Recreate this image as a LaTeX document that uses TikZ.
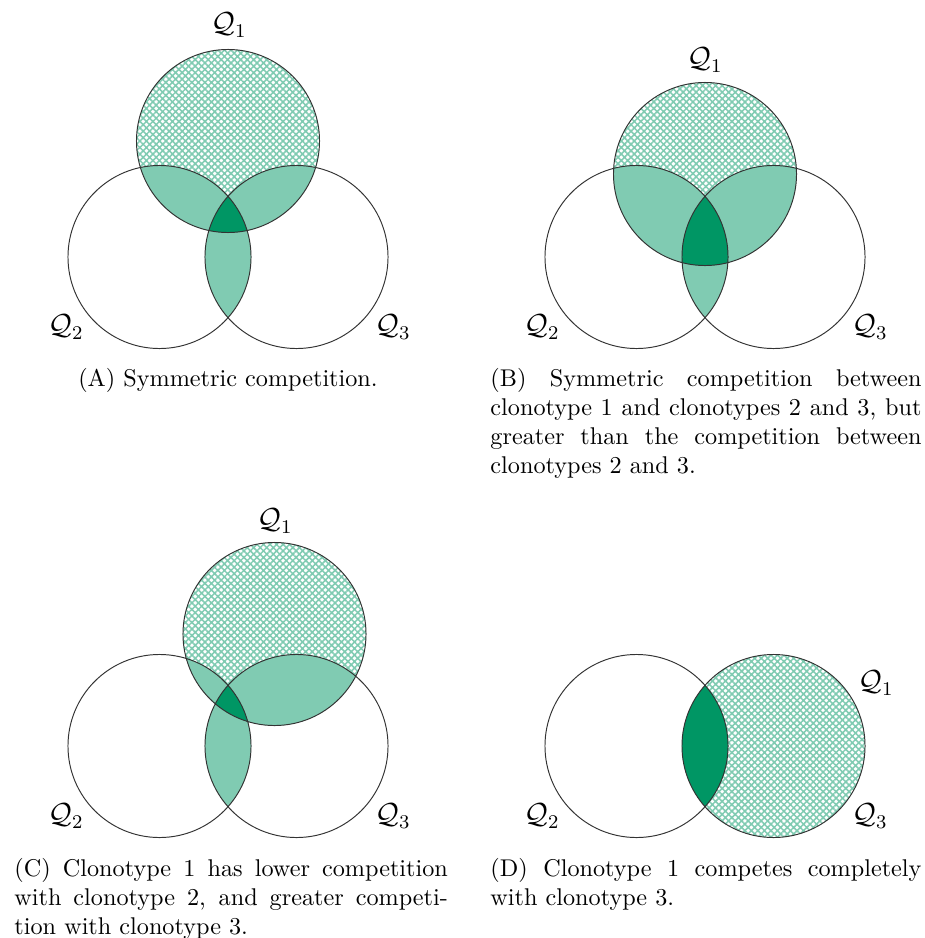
\documentclass[tikz,border=0pt]{standalone}
\usepackage{amsmath,amssymb}
\usepackage{tikz}
\usetikzlibrary{patterns.meta}

\definecolor{clonolight}{RGB}{128,203,178}
\definecolor{clonodark}{RGB}{0,150,100}

\begin{document}
\begin{tikzpicture}[
    x=0.413pt, y=-0.413pt,
    rim/.style={draw=black!80, line width=0.4pt},
    hatched/.style={pattern={Hatch[angle=45,distance=1.9pt,line width=0.65pt]},
                    pattern color=clonolight},
    pairfill/.style={fill=clonolight},
    triplefill/.style={fill=clonodark},
    qlabel/.style={inner sep=0pt, font=\large},
    capbox/.style={anchor=north west, inner sep=0pt, align=justify,
                   text width=178pt},
]
\def\rr{37.8pt}
\useasboundingbox (0,0) rectangle (925,938);

% --- (A) symmetric competition ---
\coordinate (a1) at (228,141);
\coordinate (a2) at (159.5,257);
\coordinate (a3) at (296.5,257);
\fill[hatched] (a1) circle[radius=\rr];
\begin{scope}
  \clip (a1) circle[radius=\rr];
  \fill[pairfill] (a2) circle[radius=\rr];
  \fill[pairfill] (a3) circle[radius=\rr];
\end{scope}
\begin{scope}
  \clip (a2) circle[radius=\rr];
  \fill[pairfill] (a3) circle[radius=\rr];
\end{scope}
\begin{scope}
  \clip (a1) circle[radius=\rr];
  \clip (a2) circle[radius=\rr];
  \fill[triplefill] (a3) circle[radius=\rr];
\end{scope}
\draw[rim] (a1) circle[radius=\rr] (a2) circle[radius=\rr] (a3) circle[radius=\rr];
\node[qlabel] (qa1) at (229,25) {$\mathcal{Q}_1$};
\node[qlabel] (qa2) at (66,327) {$\mathcal{Q}_2$};
\node[qlabel] (qa3) at (393,327) {$\mathcal{Q}_3$};
\node[anchor=north, inner sep=0pt] (capa) at (228,368) {(A) Symmetric competition.};

% --- (B) clonotype 1 closer to both ---
\coordinate (b1) at (705,174);
\coordinate (b2) at (636.5,257);
\coordinate (b3) at (773.5,257);
\fill[hatched] (b1) circle[radius=\rr];
\begin{scope}
  \clip (b1) circle[radius=\rr];
  \fill[pairfill] (b2) circle[radius=\rr];
  \fill[pairfill] (b3) circle[radius=\rr];
\end{scope}
\begin{scope}
  \clip (b2) circle[radius=\rr];
  \fill[pairfill] (b3) circle[radius=\rr];
\end{scope}
\begin{scope}
  \clip (b1) circle[radius=\rr];
  \clip (b2) circle[radius=\rr];
  \fill[triplefill] (b3) circle[radius=\rr];
\end{scope}
\draw[rim] (b1) circle[radius=\rr] (b2) circle[radius=\rr] (b3) circle[radius=\rr];
\node[qlabel] (qb1) at (705,60) {$\mathcal{Q}_1$};
\node[qlabel] (qb2) at (542,327) {$\mathcal{Q}_2$};
\node[qlabel] (qb3) at (870,327) {$\mathcal{Q}_3$};
\node[capbox] (capb) at (490,368)
  {(B) Symmetric competition between clonotype 1 and clonotypes 2 and 3,
   but greater than the competition between clonotypes 2 and 3.};

% --- (C) shifted towards clonotype 3 ---
\coordinate (c1) at (274.5,634);
\coordinate (c2) at (159.5,746);
\coordinate (c3) at (296.5,746);
\fill[hatched] (c1) circle[radius=\rr];
\begin{scope}
  \clip (c1) circle[radius=\rr];
  \fill[pairfill] (c2) circle[radius=\rr];
  \fill[pairfill] (c3) circle[radius=\rr];
\end{scope}
\begin{scope}
  \clip (c2) circle[radius=\rr];
  \fill[pairfill] (c3) circle[radius=\rr];
\end{scope}
\begin{scope}
  \clip (c1) circle[radius=\rr];
  \clip (c2) circle[radius=\rr];
  \fill[triplefill] (c3) circle[radius=\rr];
\end{scope}
\draw[rim] (c1) circle[radius=\rr] (c2) circle[radius=\rr] (c3) circle[radius=\rr];
\node[qlabel] (qc1) at (275,521) {$\mathcal{Q}_1$};
\node[qlabel] (qc2) at (66,816) {$\mathcal{Q}_2$};
\node[qlabel] (qc3) at (393,816) {$\mathcal{Q}_3$};
\node[capbox, text width=179pt] (capc) at (14,858)
  {(C) Clonotype 1 has lower competition with clonotype 2, and greater
   competition with clonotype 3.};

% --- (D) clonotype 1 on top of clonotype 3 ---
\coordinate (d1) at (773.5,746);
\coordinate (d2) at (636.5,746);
\fill[hatched] (d1) circle[radius=\rr];
\begin{scope}
  \clip (d1) circle[radius=\rr];
  \fill[triplefill] (d2) circle[radius=\rr];
\end{scope}
\draw[rim] (d1) circle[radius=\rr] (d2) circle[radius=\rr];
\node[qlabel] (qd1) at (876,683) {$\mathcal{Q}_1$};
\node[qlabel] (qd2) at (542,816) {$\mathcal{Q}_2$};
\node[qlabel] (qd3) at (870,816) {$\mathcal{Q}_3$};
\node[capbox] (capd) at (490,858)
  {(D) Clonotype 1 competes completely with clonotype 3.};
\end{tikzpicture}
\end{document}
